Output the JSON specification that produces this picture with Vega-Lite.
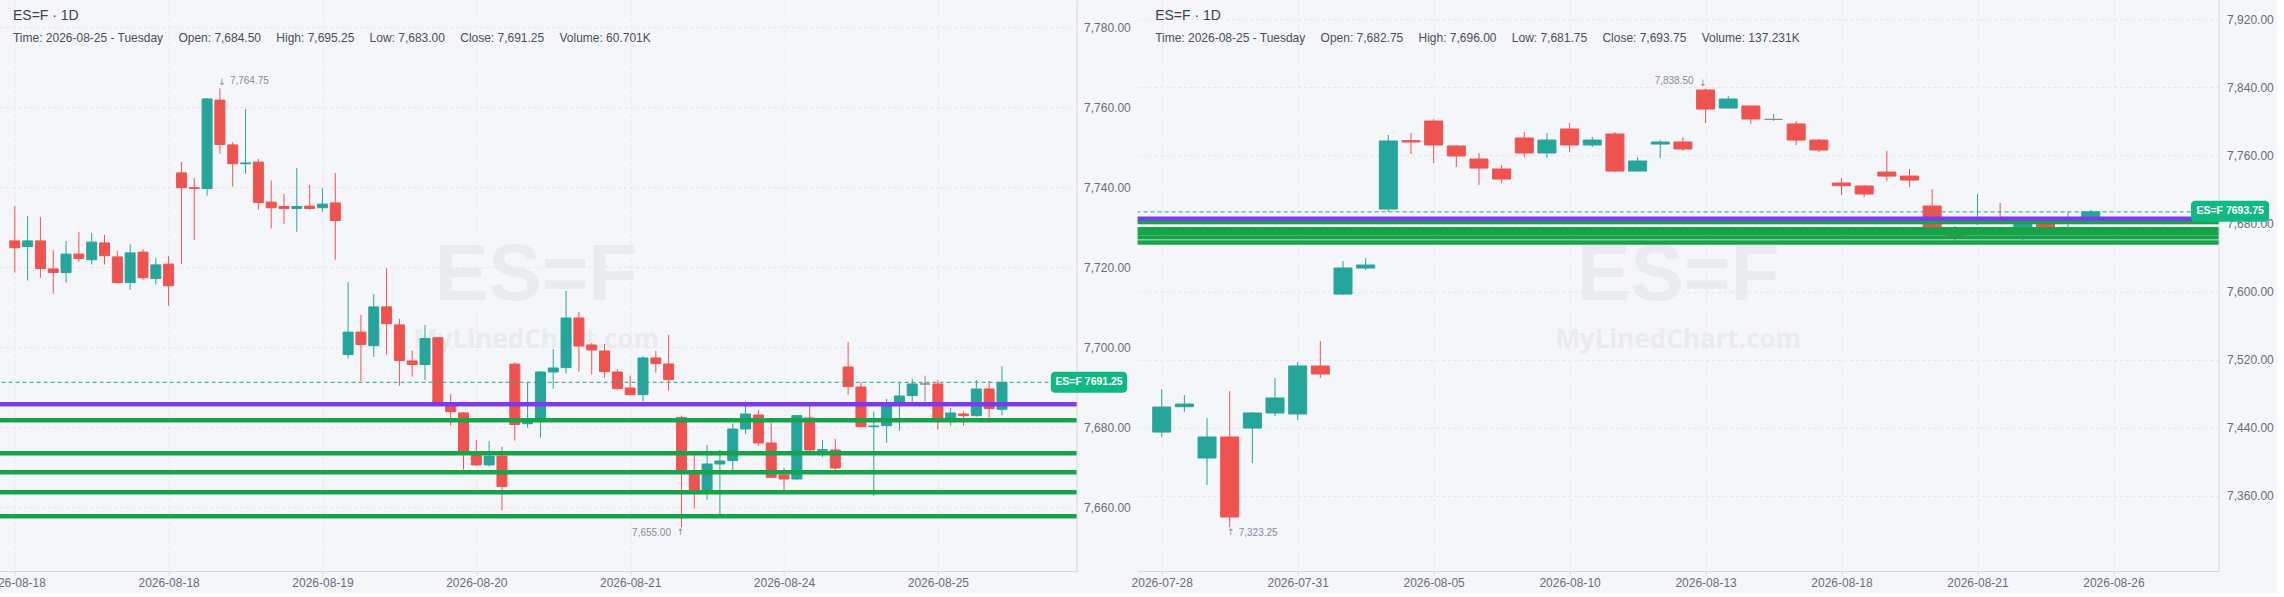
{
  "$schema": "https://vega.github.io/schema/vega-lite/v6.json",
  "background": "#f5f6fa",
  "padding": {"left": -16.4, "top": 0, "right": 3, "bottom": 4},
  "config": {
    "view": {"stroke": null},
    "font": "Liberation Sans",
    "text": {"font": "Liberation Sans"},
    "axis": {"labelFont": "Liberation Sans", "grid": true, "gridColor": "#e4e7ed", "gridDash": [3, 3], "domainColor": "#d5d8df", "tickColor": "#d5d8df", "labelFontSize": 12, "labelColor": "#666d7a", "labelFlush": false, "labelOverlap": false}
  },
  "datasets": {
    "L": [
      {"i":0,"o":7726.6,"h":7735.3,"l":7718.7,"c":7724.9},
      {"i":1,"o":7725.2,"h":7732.8,"l":7716.7,"c":7726.6},
      {"i":2,"o":7726.6,"h":7732.6,"l":7717.4,"c":7719.7},
      {"i":3,"o":7719.6,"h":7724.3,"l":7713.4,"c":7718.7},
      {"i":4,"o":7718.7,"h":7726.6,"l":7716.2,"c":7723.3},
      {"i":5,"o":7723.3,"h":7728.8,"l":7721.4,"c":7722.2},
      {"i":6,"o":7721.9,"h":7728.6,"l":7720.7,"c":7726.3},
      {"i":7,"o":7726.1,"h":7728.1,"l":7720.7,"c":7722.9},
      {"i":8,"o":7722.6,"h":7724.1,"l":7715.9,"c":7716.2},
      {"i":9,"o":7716.2,"h":7725.8,"l":7714.4,"c":7723.6},
      {"i":10,"o":7723.8,"h":7724.6,"l":7716.9,"c":7717.4},
      {"i":11,"o":7717.2,"h":7722.3,"l":7715.7,"c":7720.6},
      {"i":12,"o":7720.8,"h":7722.8,"l":7710.4,"c":7715.4},
      {"i":13,"o":7743.6,"h":7746.3,"l":7720.9,"c":7739.9},
      {"i":14,"o":7739.9,"h":7742.3,"l":7726.8,"c":7739.7},
      {"i":15,"o":7739.7,"h":7762.3,"l":7737.9,"c":7762.1},
      {"i":16,"o":7761.8,"h":7764.75,"l":7748.4,"c":7750.7},
      {"i":17,"o":7750.6,"h":7751.3,"l":7740.2,"c":7745.9},
      {"i":18,"o":7745.9,"h":7759.6,"l":7743.4,"c":7746.1},
      {"i":19,"o":7746.3,"h":7747.1,"l":7734.4,"c":7736.2},
      {"i":20,"o":7736.3,"h":7741.7,"l":7729.7,"c":7734.9},
      {"i":21,"o":7735.2,"h":7738.3,"l":7730.9,"c":7734.7},
      {"i":22,"o":7734.7,"h":7744.8,"l":7728.9,"c":7735.2},
      {"i":23,"o":7735.3,"h":7740.6,"l":7734.4,"c":7734.7},
      {"i":24,"o":7734.9,"h":7739.8,"l":7733.9,"c":7735.8},
      {"i":25,"o":7736.1,"h":7743.6,"l":7721.9,"c":7731.7},
      {"i":26,"o":7698.2,"h":7716.3,"l":7697.2,"c":7703.8},
      {"i":27,"o":7703.8,"h":7708.1,"l":7691.5,"c":7700.7},
      {"i":28,"o":7700.4,"h":7713.3,"l":7697.6,"c":7710.1},
      {"i":29,"o":7710.1,"h":7719.8,"l":7698.2,"c":7705.9},
      {"i":30,"o":7705.6,"h":7707.1,"l":7690.4,"c":7696.7},
      {"i":31,"o":7696.6,"h":7699.2,"l":7692.7,"c":7695.7},
      {"i":32,"o":7695.7,"h":7705.6,"l":7691.9,"c":7702.2},
      {"i":33,"o":7702.4,"h":7702.5,"l":7685.5,"c":7686.25},
      {"i":34,"o":7685.8,"h":7688.3,"l":7680.4,"c":7683.9},
      {"i":35,"o":7683.6,"h":7683.8,"l":7669.4,"c":7673.8},
      {"i":36,"o":7673.8,"h":7676.8,"l":7670.3,"c":7670.6},
      {"i":37,"o":7670.6,"h":7676.6,"l":7670.2,"c":7672.8},
      {"i":38,"o":7672.8,"h":7675.1,"l":7659.2,"c":7665.2},
      {"i":39,"o":7695.8,"h":7696.3,"l":7676.7,"c":7680.7},
      {"i":40,"o":7680.9,"h":7691.25,"l":7679.9,"c":7681.2},
      {"i":41,"o":7681.83,"h":7694.08,"l":7677.42,"c":7693.83},
      {"i":42,"o":7693.83,"h":7699.58,"l":7689.67,"c":7694.83},
      {"i":43,"o":7694.92,"h":7714.08,"l":7693.42,"c":7707.33},
      {"i":44,"o":7707.33,"h":7708.83,"l":7693.92,"c":7700.33},
      {"i":45,"o":7700.58,"h":7701.08,"l":7693.17,"c":7699.33},
      {"i":46,"o":7699.08,"h":7700.83,"l":7692.42,"c":7693.92},
      {"i":47,"o":7693.83,"h":7694.58,"l":7689.42,"c":7689.67},
      {"i":48,"o":7689.83,"h":7692.92,"l":7687.92,"c":7688.17},
      {"i":49,"o":7688.17,"h":7697.83,"l":7686.42,"c":7697.33},
      {"i":50,"o":7697.33,"h":7699.08,"l":7693.67,"c":7695.92},
      {"i":51,"o":7695.83,"h":7703.08,"l":7689.17,"c":7691.92},
      {"i":52,"o":7682.42,"h":7682.92,"l":7655.0,"c":7668.92},
      {"i":53,"o":7668.92,"h":7674.08,"l":7659.67,"c":7664.17},
      {"i":54,"o":7663.92,"h":7675.58,"l":7661.92,"c":7670.83},
      {"i":55,"o":7670.83,"h":7674.33,"l":7657.92,"c":7671.58},
      {"i":56,"o":7671.67,"h":7681.0,"l":7668.92,"c":7679.58},
      {"i":57,"o":7679.58,"h":7686.5,"l":7678.33,"c":7683.33},
      {"i":58,"o":7683.08,"h":7684.33,"l":7675.33,"c":7676.08},
      {"i":59,"o":7676.08,"h":7681.17,"l":7667.33,"c":7667.5},
      {"i":60,"o":7668.08,"h":7669.83,"l":7664.42,"c":7667.08},
      {"i":61,"o":7667.08,"h":7683.1,"l":7666.83,"c":7682.92},
      {"i":62,"o":7682.33,"h":7685.5,"l":7674.08,"c":7674.33},
      {"i":63,"o":7674.25,"h":7676.83,"l":7672.58,"c":7674.42},
      {"i":64,"o":7674.33,"h":7677.08,"l":7669.08,"c":7669.83},
      {"i":65,"o":7695.08,"h":7701.33,"l":7688.17,"c":7690.17},
      {"i":66,"o":7690.08,"h":7691.25,"l":7679.92,"c":7680.17},
      {"i":67,"o":7680.17,"h":7683.92,"l":7662.92,"c":7680.33},
      {"i":68,"o":7680.42,"h":7687.08,"l":7676.17,"c":7685.58},
      {"i":69,"o":7685.58,"h":7691.25,"l":7679.17,"c":7687.83},
      {"i":70,"o":7687.92,"h":7692.17,"l":7686.42,"c":7690.83},
      {"i":71,"o":7690.83,"h":7692.92,"l":7686.42,"c":7690.83},
      {"i":72,"o":7690.83,"h":7691.83,"l":7679.42,"c":7682.08},
      {"i":73,"o":7682.08,"h":7684.83,"l":7680.42,"c":7683.58},
      {"i":74,"o":7683.33,"h":7683.92,"l":7680.42,"c":7682.92},
      {"i":75,"o":7682.92,"h":7691.83,"l":7682.67,"c":7689.58},
      {"i":76,"o":7689.58,"h":7691.58,"l":7682.08,"c":7684.67},
      {"i":77,"o":7684.5,"h":7695.25,"l":7683.0,"c":7691.25}
    ],
    "R": [
      {"i":0,"o":7435.1,"h":7485.6,"l":7429.3,"c":7464.5},
      {"i":1,"o":7464.9,"h":7478.6,"l":7458.6,"c":7468.0},
      {"i":2,"o":7404.6,"h":7451.6,"l":7372.9,"c":7429.3},
      {"i":3,"o":7429.3,"h":7483.3,"l":7323.25,"c":7335.3},
      {"i":4,"o":7439.8,"h":7458.6,"l":7398.7,"c":7457.5},
      {"i":5,"o":7457.5,"h":7498.6,"l":7453.9,"c":7475.1},
      {"i":6,"o":7456.3,"h":7517.4,"l":7449.2,"c":7512.7},
      {"i":7,"o":7512.7,"h":7542.0,"l":7498.6,"c":7503.3},
      {"i":8,"o":7597.2,"h":7636.0,"l":7596.1,"c":7627.8},
      {"i":9,"o":7627.8,"h":7639.5,"l":7625.4,"c":7631.3},
      {"i":10,"o":7697.1,"h":7784.0,"l":7693.6,"c":7777.0},
      {"i":11,"o":7777.4,"h":7786.4,"l":7761.7,"c":7775.8},
      {"i":12,"o":7800.45,"h":7802.8,"l":7751.1,"c":7772.3},
      {"i":13,"o":7771.1,"h":7772.3,"l":7746.4,"c":7759.4},
      {"i":14,"o":7755.8,"h":7762.9,"l":7725.3,"c":7745.2},
      {"i":15,"o":7744.1,"h":7748.8,"l":7727.6,"c":7732.3},
      {"i":16,"o":7780.5,"h":7787.5,"l":7758.2,"c":7762.9},
      {"i":17,"o":7762.9,"h":7786.4,"l":7757.0,"c":7778.1},
      {"i":18,"o":7791.1,"h":7798.1,"l":7764.0,"c":7772.3},
      {"i":19,"o":7772.3,"h":7781.7,"l":7769.9,"c":7778.1},
      {"i":20,"o":7785.2,"h":7787.5,"l":7740.5,"c":7741.7},
      {"i":21,"o":7741.7,"h":7758.2,"l":7741.5,"c":7753.5},
      {"i":22,"o":7773.4,"h":7778.1,"l":7757.0,"c":7775.8},
      {"i":23,"o":7775.8,"h":7781.7,"l":7765.2,"c":7767.6},
      {"i":24,"o":7836.9,"h":7838.5,"l":7798.1,"c":7814.5},
      {"i":25,"o":7815.7,"h":7829.8,"l":7815.5,"c":7826.3},
      {"i":26,"o":7818.1,"h":7818.3,"l":7797.0,"c":7802.8},
      {"i":27,"o":7802.4,"h":7808.7,"l":7800.45,"c":7802.4},
      {"i":28,"o":7797.0,"h":7800.45,"l":7772.3,"c":7778.1},
      {"i":29,"o":7778.1,"h":7779.3,"l":7764.0,"c":7766.4},
      {"i":30,"o":7727.6,"h":7733.5,"l":7713.5,"c":7724.5},
      {"i":31,"o":7724.1,"h":7725.3,"l":7711.2,"c":7714.7},
      {"i":32,"o":7740.5,"h":7765.2,"l":7730.0,"c":7735.8},
      {"i":33,"o":7735.8,"h":7744.1,"l":7722.9,"c":7731.1},
      {"i":34,"o":7700.6,"h":7720.4,"l":7672.0,"c":7675.75},
      {"i":35,"o":7672.0,"h":7677.1,"l":7660.0,"c":7666.0},
      {"i":36,"o":7681.5,"h":7714.7,"l":7678.3,"c":7685.5},
      {"i":37,"o":7685.5,"h":7704.1,"l":7680.0,"c":7682.0},
      {"i":38,"o":7672.0,"h":7683.0,"l":7660.7,"c":7681.0},
      {"i":39,"o":7681.0,"h":7683.0,"l":7668.0,"c":7672.0},
      {"i":40,"o":7681.5,"h":7693.6,"l":7675.9,"c":7685.0},
      {"i":41,"o":7682.75,"h":7696.0,"l":7681.75,"c":7693.75}
    ],
    "LV": [
      {"v":7681.75,"k":"g"},
      {"v":7673.5,"k":"g"},
      {"v":7668.75,"k":"g"},
      {"v":7663.75,"k":"g"},
      {"v":7657.75,"k":"g"},
      {"v":7685.75,"k":"p"}
    ]
  },
  "bounds": "flush",
  "spacing": 61,
  "hconcat": [
    {
      "width": 1081,
      "height": 571,
      "layer": [
        {
          "data": {"values": [{"t": "ES=F"}]},
          "mark": {"type": "text", "font": "Liberation Sans", "fontWeight": "bold", "fontSize": 80, "color": "#e9ebf0", "align": "center", "baseline": "alphabetic"},
          "encoding": {
            "x": {"datum": 40.665, "type": "quantitative", "scale": {"domain": [-1.105, 82.43], "nice": false, "zero": false}, "axis": {"orient": "bottom", "values": [0, 12, 24, 36, 48, 60, 72], "labelExpr": "datum.value == 0 ? '2026-08-18' : datum.value == 12 ? '2026-08-18' : datum.value == 24 ? '2026-08-19' : datum.value == 36 ? '2026-08-20' : datum.value == 48 ? '2026-08-21' : datum.value == 60 ? '2026-08-24' : '2026-08-25'", "tickSize": 4, "labelPadding": 3, "title": null}},
            "y": {"datum": 7711.83, "type": "quantitative", "scale": {"domain": [7644.08, 7786.83], "nice": false, "zero": false}, "axis": {"orient": "right", "values": [7660, 7680, 7700, 7720, 7740, 7760, 7780], "format": ",.2f", "ticks": false, "tickSize": 0, "labelPadding": 7, "title": null}},
            "text": {"field": "t"}
          }
        },
        {
          "data": {"values": [{"t": "MyLinedChart.com"}]},
          "mark": {"type": "text", "font": "Open Sans", "fontWeight": "bold", "fontSize": 26, "color": "#e9ebf0", "align": "center", "baseline": "alphabetic"},
          "encoding": {
            "x": {"datum": 40.665, "type": "quantitative", "scale": {"domain": [-1.105, 82.43], "nice": false, "zero": false}, "axis": {"orient": "bottom", "values": [0, 12, 24, 36, 48, 60, 72], "labelExpr": "datum.value == 0 ? '2026-08-18' : datum.value == 12 ? '2026-08-18' : datum.value == 24 ? '2026-08-19' : datum.value == 36 ? '2026-08-20' : datum.value == 48 ? '2026-08-21' : datum.value == 60 ? '2026-08-24' : '2026-08-25'", "tickSize": 4, "labelPadding": 3, "title": null}},
            "y": {"datum": 7699.76, "type": "quantitative", "scale": {"domain": [7644.08, 7786.83], "nice": false, "zero": false}, "axis": {"orient": "right", "values": [7660, 7680, 7700, 7720, 7740, 7760, 7780], "format": ",.2f", "ticks": false, "tickSize": 0, "labelPadding": 7, "title": null}},
            "text": {"field": "t"}
          }
        },
        {
          "data": {"name": "L"},
          "mark": {"type": "rule", "strokeWidth": 1},
          "encoding": {
            "x": {"field": "i", "type": "quantitative", "scale": {"domain": [-1.105, 82.43], "nice": false, "zero": false}, "axis": {"orient": "bottom", "values": [0, 12, 24, 36, 48, 60, 72], "labelExpr": "datum.value == 0 ? '2026-08-18' : datum.value == 12 ? '2026-08-18' : datum.value == 24 ? '2026-08-19' : datum.value == 36 ? '2026-08-20' : datum.value == 48 ? '2026-08-21' : datum.value == 60 ? '2026-08-24' : '2026-08-25'", "tickSize": 4, "labelPadding": 3, "title": null}},
            "y": {"field": "l", "type": "quantitative", "scale": {"domain": [7644.08, 7786.83], "nice": false, "zero": false}, "axis": {"orient": "right", "values": [7660, 7680, 7700, 7720, 7740, 7760, 7780], "format": ",.2f", "ticks": false, "tickSize": 0, "labelPadding": 7, "title": null}},
            "y2": {"field": "h"},
            "color": {"condition": [{"test": "datum.c > datum.o", "value": "#26a69a"}, {"test": "datum.c == datum.o", "value": "#8c8c8c"}], "value": "#ef5350"}
          }
        },
        {
          "data": {"name": "L"},
          "mark": {"type": "bar", "size": 10, "strokeWidth": 1},
          "encoding": {
            "x": {"field": "i", "type": "quantitative", "scale": {"domain": [-1.105, 82.43], "nice": false, "zero": false}, "axis": {"orient": "bottom", "values": [0, 12, 24, 36, 48, 60, 72], "labelExpr": "datum.value == 0 ? '2026-08-18' : datum.value == 12 ? '2026-08-18' : datum.value == 24 ? '2026-08-19' : datum.value == 36 ? '2026-08-20' : datum.value == 48 ? '2026-08-21' : datum.value == 60 ? '2026-08-24' : '2026-08-25'", "tickSize": 4, "labelPadding": 3, "title": null}},
            "y": {"field": "o", "type": "quantitative", "scale": {"domain": [7644.08, 7786.83], "nice": false, "zero": false}, "axis": {"orient": "right", "values": [7660, 7680, 7700, 7720, 7740, 7760, 7780], "format": ",.2f", "ticks": false, "tickSize": 0, "labelPadding": 7, "title": null}},
            "y2": {"field": "c"},
            "color": {"condition": [{"test": "datum.c > datum.o", "value": "#26a69a"}, {"test": "datum.c == datum.o", "value": "#8c8c8c"}], "value": "#ef5350"},
            "stroke": {"condition": [{"test": "datum.c > datum.o", "value": "#26a69a"}, {"test": "datum.c == datum.o", "value": "#8c8c8c"}], "value": "#ef5350"}
          }
        },
        {
          "data": {"name": "L"},
          "transform": [{"joinaggregate": [{"op": "max", "field": "i", "as": "mi"}]}, {"filter": "datum.i == datum.mi"}],
          "mark": {"type": "rule", "strokeWidth": 1, "strokeDash": [4, 3], "color": "#22ab8a"},
          "encoding": {
            "y": {"field": "c", "type": "quantitative", "scale": {"domain": [7644.08, 7786.83], "nice": false, "zero": false}, "axis": {"orient": "right", "values": [7660, 7680, 7700, 7720, 7740, 7760, 7780], "format": ",.2f", "ticks": false, "tickSize": 0, "labelPadding": 7, "title": null}}
          }
        },
        {
          "data": {"name": "LV"},
          "transform": [{"filter": "datum.k == 'g'"}],
          "mark": {"type": "rule", "strokeWidth": 4.4, "color": "#16a34a"},
          "encoding": {
            "y": {"field": "v", "type": "quantitative", "scale": {"domain": [7644.08, 7786.83], "nice": false, "zero": false}, "axis": {"orient": "right", "values": [7660, 7680, 7700, 7720, 7740, 7760, 7780], "format": ",.2f", "ticks": false, "tickSize": 0, "labelPadding": 7, "title": null}}
          }
        },
        {
          "data": {"name": "LV"},
          "transform": [{"filter": "datum.k == 'p'"}],
          "mark": {"type": "rule", "strokeWidth": 4.4, "color": "#7c3aed"},
          "encoding": {
            "y": {"field": "v", "type": "quantitative", "scale": {"domain": [7644.08, 7786.83], "nice": false, "zero": false}, "axis": {"orient": "right", "values": [7660, 7680, 7700, 7720, 7740, 7760, 7780], "format": ",.2f", "ticks": false, "tickSize": 0, "labelPadding": 7, "title": null}}
          }
        },
        {
          "data": {"values": [{"t": "ES=F · 1D"}]},
          "mark": {"type": "text", "fontSize": 14, "color": "#3b4150", "align": "left", "baseline": "middle"},
          "encoding": {
            "x": {"datum": -0.139, "type": "quantitative", "scale": {"domain": [-1.105, 82.43], "nice": false, "zero": false}, "axis": {"orient": "bottom", "values": [0, 12, 24, 36, 48, 60, 72], "labelExpr": "datum.value == 0 ? '2026-08-18' : datum.value == 12 ? '2026-08-18' : datum.value == 24 ? '2026-08-19' : datum.value == 36 ? '2026-08-20' : datum.value == 48 ? '2026-08-21' : datum.value == 60 ? '2026-08-24' : '2026-08-25'", "tickSize": 4, "labelPadding": 3, "title": null}},
            "y": {"datum": 7782.83, "type": "quantitative", "scale": {"domain": [7644.08, 7786.83], "nice": false, "zero": false}, "axis": {"orient": "right", "values": [7660, 7680, 7700, 7720, 7740, 7760, 7780], "format": ",.2f", "ticks": false, "tickSize": 0, "labelPadding": 7, "title": null}},
            "text": {"field": "t"}
          }
        },
        {
          "data": {"values": [{"t": "Time: 2026-08-25 - Tuesday\u2003 Open: 7,684.50\u2003 High: 7,695.25\u2003 Low: 7,683.00\u2003 Close: 7,691.25\u2003 Volume: 60.701K"}]},
          "mark": {"type": "text", "fontSize": 12, "color": "#474e5c", "align": "left", "baseline": "middle"},
          "encoding": {
            "x": {"datum": -0.139, "type": "quantitative", "scale": {"domain": [-1.105, 82.43], "nice": false, "zero": false}, "axis": {"orient": "bottom", "values": [0, 12, 24, 36, 48, 60, 72], "labelExpr": "datum.value == 0 ? '2026-08-18' : datum.value == 12 ? '2026-08-18' : datum.value == 24 ? '2026-08-19' : datum.value == 36 ? '2026-08-20' : datum.value == 48 ? '2026-08-21' : datum.value == 60 ? '2026-08-24' : '2026-08-25'", "tickSize": 4, "labelPadding": 3, "title": null}},
            "y": {"datum": 7777.4, "type": "quantitative", "scale": {"domain": [7644.08, 7786.83], "nice": false, "zero": false}, "axis": {"orient": "right", "values": [7660, 7680, 7700, 7720, 7740, 7760, 7780], "format": ",.2f", "ticks": false, "tickSize": 0, "labelPadding": 7, "title": null}},
            "text": {"field": "t"}
          }
        },
        {
          "data": {"name": "L"},
          "transform": [{"joinaggregate": [{"op": "max", "field": "h", "as": "mh"}]}, {"filter": "datum.h == datum.mh"}],
          "mark": {"type": "text", "fontSize": 10, "color": "#878d99", "align": "left", "baseline": "middle", "dx": 10, "dy": -7},
          "encoding": {
            "x": {"field": "i", "type": "quantitative", "scale": {"domain": [-1.105, 82.43], "nice": false, "zero": false}, "axis": {"orient": "bottom", "values": [0, 12, 24, 36, 48, 60, 72], "labelExpr": "datum.value == 0 ? '2026-08-18' : datum.value == 12 ? '2026-08-18' : datum.value == 24 ? '2026-08-19' : datum.value == 36 ? '2026-08-20' : datum.value == 48 ? '2026-08-21' : datum.value == 60 ? '2026-08-24' : '2026-08-25'", "tickSize": 4, "labelPadding": 3, "title": null}},
            "y": {"field": "h", "type": "quantitative", "scale": {"domain": [7644.08, 7786.83], "nice": false, "zero": false}, "axis": {"orient": "right", "values": [7660, 7680, 7700, 7720, 7740, 7760, 7780], "format": ",.2f", "ticks": false, "tickSize": 0, "labelPadding": 7, "title": null}},
            "text": {"field": "h", "format": ",.2f"}
          }
        },
        {
          "data": {"name": "L"},
          "transform": [{"joinaggregate": [{"op": "max", "field": "h", "as": "mh"}]}, {"filter": "datum.h == datum.mh"}],
          "mark": {"type": "text", "text": "↓", "font": "DejaVu Sans", "fontSize": 9, "color": "#878d99", "align": "center", "baseline": "middle", "dx": 2, "dy": -6},
          "encoding": {
            "x": {"field": "i", "type": "quantitative", "scale": {"domain": [-1.105, 82.43], "nice": false, "zero": false}, "axis": {"orient": "bottom", "values": [0, 12, 24, 36, 48, 60, 72], "labelExpr": "datum.value == 0 ? '2026-08-18' : datum.value == 12 ? '2026-08-18' : datum.value == 24 ? '2026-08-19' : datum.value == 36 ? '2026-08-20' : datum.value == 48 ? '2026-08-21' : datum.value == 60 ? '2026-08-24' : '2026-08-25'", "tickSize": 4, "labelPadding": 3, "title": null}},
            "y": {"field": "h", "type": "quantitative", "scale": {"domain": [7644.08, 7786.83], "nice": false, "zero": false}, "axis": {"orient": "right", "values": [7660, 7680, 7700, 7720, 7740, 7760, 7780], "format": ",.2f", "ticks": false, "tickSize": 0, "labelPadding": 7, "title": null}}
          }
        },
        {
          "data": {"name": "L"},
          "transform": [{"joinaggregate": [{"op": "min", "field": "l", "as": "ml"}]}, {"filter": "datum.l == datum.ml"}],
          "mark": {"type": "text", "fontSize": 10, "color": "#878d99", "align": "right", "baseline": "middle", "dx": -10.5, "dy": 6},
          "encoding": {
            "x": {"field": "i", "type": "quantitative", "scale": {"domain": [-1.105, 82.43], "nice": false, "zero": false}, "axis": {"orient": "bottom", "values": [0, 12, 24, 36, 48, 60, 72], "labelExpr": "datum.value == 0 ? '2026-08-18' : datum.value == 12 ? '2026-08-18' : datum.value == 24 ? '2026-08-19' : datum.value == 36 ? '2026-08-20' : datum.value == 48 ? '2026-08-21' : datum.value == 60 ? '2026-08-24' : '2026-08-25'", "tickSize": 4, "labelPadding": 3, "title": null}},
            "y": {"field": "l", "type": "quantitative", "scale": {"domain": [7644.08, 7786.83], "nice": false, "zero": false}, "axis": {"orient": "right", "values": [7660, 7680, 7700, 7720, 7740, 7760, 7780], "format": ",.2f", "ticks": false, "tickSize": 0, "labelPadding": 7, "title": null}},
            "text": {"field": "l", "format": ",.2f"}
          }
        },
        {
          "data": {"name": "L"},
          "transform": [{"joinaggregate": [{"op": "min", "field": "l", "as": "ml"}]}, {"filter": "datum.l == datum.ml"}],
          "mark": {"type": "text", "text": "↑", "font": "DejaVu Sans", "fontSize": 9, "color": "#878d99", "align": "center", "baseline": "middle", "dx": -1, "dy": 5},
          "encoding": {
            "x": {"field": "i", "type": "quantitative", "scale": {"domain": [-1.105, 82.43], "nice": false, "zero": false}, "axis": {"orient": "bottom", "values": [0, 12, 24, 36, 48, 60, 72], "labelExpr": "datum.value == 0 ? '2026-08-18' : datum.value == 12 ? '2026-08-18' : datum.value == 24 ? '2026-08-19' : datum.value == 36 ? '2026-08-20' : datum.value == 48 ? '2026-08-21' : datum.value == 60 ? '2026-08-24' : '2026-08-25'", "tickSize": 4, "labelPadding": 3, "title": null}},
            "y": {"field": "l", "type": "quantitative", "scale": {"domain": [7644.08, 7786.83], "nice": false, "zero": false}, "axis": {"orient": "right", "values": [7660, 7680, 7700, 7720, 7740, 7760, 7780], "format": ",.2f", "ticks": false, "tickSize": 0, "labelPadding": 7, "title": null}}
          }
        },
        {
          "data": {"values": [{"t": "ES=F 7691.25"}]},
          "mark": {"type": "rect", "color": "#10b981", "cornerRadius": 4},
          "encoding": {
            "x": {"datum": 80.81, "type": "quantitative", "scale": {"domain": [-1.105, 82.43], "nice": false, "zero": false}, "axis": {"orient": "bottom", "values": [0, 12, 24, 36, 48, 60, 72], "labelExpr": "datum.value == 0 ? '2026-08-18' : datum.value == 12 ? '2026-08-18' : datum.value == 24 ? '2026-08-19' : datum.value == 36 ? '2026-08-20' : datum.value == 48 ? '2026-08-21' : datum.value == 60 ? '2026-08-24' : '2026-08-25'", "tickSize": 4, "labelPadding": 3, "title": null}},
            "x2": {"datum": 86.76},
            "y": {"datum": 7693.9, "type": "quantitative", "scale": {"domain": [7644.08, 7786.83], "nice": false, "zero": false}, "axis": {"orient": "right", "values": [7660, 7680, 7700, 7720, 7740, 7760, 7780], "format": ",.2f", "ticks": false, "tickSize": 0, "labelPadding": 7, "title": null}},
            "y2": {"datum": 7688.66}
          }
        },
        {
          "data": {"values": [{"t": "ES=F 7691.25"}]},
          "mark": {"type": "text", "fontSize": 10.5, "fontWeight": "bold", "color": "#ffffff", "align": "center", "baseline": "middle"},
          "encoding": {
            "x": {"datum": 83.79, "type": "quantitative", "scale": {"domain": [-1.105, 82.43], "nice": false, "zero": false}, "axis": {"orient": "bottom", "values": [0, 12, 24, 36, 48, 60, 72], "labelExpr": "datum.value == 0 ? '2026-08-18' : datum.value == 12 ? '2026-08-18' : datum.value == 24 ? '2026-08-19' : datum.value == 36 ? '2026-08-20' : datum.value == 48 ? '2026-08-21' : datum.value == 60 ? '2026-08-24' : '2026-08-25'", "tickSize": 4, "labelPadding": 3, "title": null}},
            "y": {"datum": 7691.28, "type": "quantitative", "scale": {"domain": [7644.08, 7786.83], "nice": false, "zero": false}, "axis": {"orient": "right", "values": [7660, 7680, 7700, 7720, 7740, 7760, 7780], "format": ",.2f", "ticks": false, "tickSize": 0, "labelPadding": 7, "title": null}},
            "text": {"field": "t"}
          }
        }
      ]
    },
    {
      "width": 1081,
      "height": 571,
      "layer": [
        {
          "data": {"values": [{"t": "ES=F"}]},
          "mark": {"type": "text", "font": "Liberation Sans", "fontWeight": "bold", "fontSize": 80, "color": "#e9ebf0", "align": "center", "baseline": "alphabetic"},
          "encoding": {
            "x": {"datum": 22.79, "type": "quantitative", "scale": {"domain": [-0.844, 46.42], "nice": false, "zero": false}, "axis": {"orient": "bottom", "values": [0, 6, 12, 18, 24, 30, 36, 42], "labelExpr": "datum.value == 0 ? '2026-07-28' : datum.value == 6 ? '2026-07-31' : datum.value == 12 ? '2026-08-05' : datum.value == 18 ? '2026-08-10' : datum.value == 24 ? '2026-08-13' : datum.value == 30 ? '2026-08-18' : datum.value == 36 ? '2026-08-21' : '2026-08-26'", "tickSize": 4, "labelPadding": 3, "title": null}},
            "y": {"datum": 7590.2, "type": "quantitative", "scale": {"domain": [7271.9, 7942.6], "nice": false, "zero": false}, "axis": {"orient": "right", "values": [7360, 7440, 7520, 7600, 7680, 7760, 7840, 7920], "format": ",.2f", "ticks": false, "tickSize": 0, "labelPadding": 8, "title": null}},
            "text": {"field": "t"}
          }
        },
        {
          "data": {"values": [{"t": "MyLinedChart.com"}]},
          "mark": {"type": "text", "font": "Open Sans", "fontWeight": "bold", "fontSize": 26, "color": "#e9ebf0", "align": "center", "baseline": "alphabetic"},
          "encoding": {
            "x": {"datum": 22.79, "type": "quantitative", "scale": {"domain": [-0.844, 46.42], "nice": false, "zero": false}, "axis": {"orient": "bottom", "values": [0, 6, 12, 18, 24, 30, 36, 42], "labelExpr": "datum.value == 0 ? '2026-07-28' : datum.value == 6 ? '2026-07-31' : datum.value == 12 ? '2026-08-05' : datum.value == 18 ? '2026-08-10' : datum.value == 24 ? '2026-08-13' : datum.value == 30 ? '2026-08-18' : datum.value == 36 ? '2026-08-21' : '2026-08-26'", "tickSize": 4, "labelPadding": 3, "title": null}},
            "y": {"datum": 7533.5, "type": "quantitative", "scale": {"domain": [7271.9, 7942.6], "nice": false, "zero": false}, "axis": {"orient": "right", "values": [7360, 7440, 7520, 7600, 7680, 7760, 7840, 7920], "format": ",.2f", "ticks": false, "tickSize": 0, "labelPadding": 8, "title": null}},
            "text": {"field": "t"}
          }
        },
        {
          "data": {"name": "R"},
          "mark": {"type": "rule", "strokeWidth": 1},
          "encoding": {
            "x": {"field": "i", "type": "quantitative", "scale": {"domain": [-0.844, 46.42], "nice": false, "zero": false}, "axis": {"orient": "bottom", "values": [0, 6, 12, 18, 24, 30, 36, 42], "labelExpr": "datum.value == 0 ? '2026-07-28' : datum.value == 6 ? '2026-07-31' : datum.value == 12 ? '2026-08-05' : datum.value == 18 ? '2026-08-10' : datum.value == 24 ? '2026-08-13' : datum.value == 30 ? '2026-08-18' : datum.value == 36 ? '2026-08-21' : '2026-08-26'", "tickSize": 4, "labelPadding": 3, "title": null}},
            "y": {"field": "l", "type": "quantitative", "scale": {"domain": [7271.9, 7942.6], "nice": false, "zero": false}, "axis": {"orient": "right", "values": [7360, 7440, 7520, 7600, 7680, 7760, 7840, 7920], "format": ",.2f", "ticks": false, "tickSize": 0, "labelPadding": 8, "title": null}},
            "y2": {"field": "h"},
            "color": {"condition": [{"test": "datum.c > datum.o", "value": "#26a69a"}, {"test": "datum.c == datum.o", "value": "#8c8c8c"}], "value": "#ef5350"}
          }
        },
        {
          "data": {"name": "R"},
          "mark": {"type": "bar", "size": 18, "strokeWidth": 1},
          "encoding": {
            "x": {"field": "i", "type": "quantitative", "scale": {"domain": [-0.844, 46.42], "nice": false, "zero": false}, "axis": {"orient": "bottom", "values": [0, 6, 12, 18, 24, 30, 36, 42], "labelExpr": "datum.value == 0 ? '2026-07-28' : datum.value == 6 ? '2026-07-31' : datum.value == 12 ? '2026-08-05' : datum.value == 18 ? '2026-08-10' : datum.value == 24 ? '2026-08-13' : datum.value == 30 ? '2026-08-18' : datum.value == 36 ? '2026-08-21' : '2026-08-26'", "tickSize": 4, "labelPadding": 3, "title": null}},
            "y": {"field": "o", "type": "quantitative", "scale": {"domain": [7271.9, 7942.6], "nice": false, "zero": false}, "axis": {"orient": "right", "values": [7360, 7440, 7520, 7600, 7680, 7760, 7840, 7920], "format": ",.2f", "ticks": false, "tickSize": 0, "labelPadding": 8, "title": null}},
            "y2": {"field": "c"},
            "color": {"condition": [{"test": "datum.c > datum.o", "value": "#26a69a"}, {"test": "datum.c == datum.o", "value": "#8c8c8c"}], "value": "#ef5350"},
            "stroke": {"condition": [{"test": "datum.c > datum.o", "value": "#26a69a"}, {"test": "datum.c == datum.o", "value": "#8c8c8c"}], "value": "#ef5350"}
          }
        },
        {
          "data": {"name": "R"},
          "transform": [{"joinaggregate": [{"op": "max", "field": "i", "as": "mi"}]}, {"filter": "datum.i == datum.mi"}],
          "mark": {"type": "rule", "strokeWidth": 1, "strokeDash": [4, 3], "color": "#22ab8a"},
          "encoding": {
            "y": {"field": "c", "type": "quantitative", "scale": {"domain": [7271.9, 7942.6], "nice": false, "zero": false}, "axis": {"orient": "right", "values": [7360, 7440, 7520, 7600, 7680, 7760, 7840, 7920], "format": ",.2f", "ticks": false, "tickSize": 0, "labelPadding": 8, "title": null}}
          }
        },
        {
          "data": {"name": "LV"},
          "transform": [{"filter": "datum.k == 'g'"}],
          "mark": {"type": "rule", "strokeWidth": 4.4, "color": "#16a34a"},
          "encoding": {
            "y": {"field": "v", "type": "quantitative", "scale": {"domain": [7271.9, 7942.6], "nice": false, "zero": false}, "axis": {"orient": "right", "values": [7360, 7440, 7520, 7600, 7680, 7760, 7840, 7920], "format": ",.2f", "ticks": false, "tickSize": 0, "labelPadding": 8, "title": null}}
          }
        },
        {
          "data": {"name": "LV"},
          "transform": [{"filter": "datum.k == 'p'"}],
          "mark": {"type": "rule", "strokeWidth": 4.4, "color": "#7c3aed"},
          "encoding": {
            "y": {"field": "v", "type": "quantitative", "scale": {"domain": [7271.9, 7942.6], "nice": false, "zero": false}, "axis": {"orient": "right", "values": [7360, 7440, 7520, 7600, 7680, 7760, 7840, 7920], "format": ",.2f", "ticks": false, "tickSize": 0, "labelPadding": 8, "title": null}}
          }
        },
        {
          "data": {"values": [{"t": "ES=F · 1D"}]},
          "mark": {"type": "text", "fontSize": 14, "color": "#3b4150", "align": "left", "baseline": "middle"},
          "encoding": {
            "x": {"datum": -0.289, "type": "quantitative", "scale": {"domain": [-0.844, 46.42], "nice": false, "zero": false}, "axis": {"orient": "bottom", "values": [0, 6, 12, 18, 24, 30, 36, 42], "labelExpr": "datum.value == 0 ? '2026-07-28' : datum.value == 6 ? '2026-07-31' : datum.value == 12 ? '2026-08-05' : datum.value == 18 ? '2026-08-10' : datum.value == 24 ? '2026-08-13' : datum.value == 30 ? '2026-08-18' : datum.value == 36 ? '2026-08-21' : '2026-08-26'", "tickSize": 4, "labelPadding": 3, "title": null}},
            "y": {"datum": 7923.8, "type": "quantitative", "scale": {"domain": [7271.9, 7942.6], "nice": false, "zero": false}, "axis": {"orient": "right", "values": [7360, 7440, 7520, 7600, 7680, 7760, 7840, 7920], "format": ",.2f", "ticks": false, "tickSize": 0, "labelPadding": 8, "title": null}},
            "text": {"field": "t"}
          }
        },
        {
          "data": {"values": [{"t": "Time: 2026-08-25 - Tuesday\u2003 Open: 7,682.75\u2003 High: 7,696.00\u2003 Low: 7,681.75\u2003 Close: 7,693.75\u2003 Volume: 137.231K"}]},
          "mark": {"type": "text", "fontSize": 12, "color": "#474e5c", "align": "left", "baseline": "middle"},
          "encoding": {
            "x": {"datum": -0.289, "type": "quantitative", "scale": {"domain": [-0.844, 46.42], "nice": false, "zero": false}, "axis": {"orient": "bottom", "values": [0, 6, 12, 18, 24, 30, 36, 42], "labelExpr": "datum.value == 0 ? '2026-07-28' : datum.value == 6 ? '2026-07-31' : datum.value == 12 ? '2026-08-05' : datum.value == 18 ? '2026-08-10' : datum.value == 24 ? '2026-08-13' : datum.value == 30 ? '2026-08-18' : datum.value == 36 ? '2026-08-21' : '2026-08-26'", "tickSize": 4, "labelPadding": 3, "title": null}},
            "y": {"datum": 7898.3, "type": "quantitative", "scale": {"domain": [7271.9, 7942.6], "nice": false, "zero": false}, "axis": {"orient": "right", "values": [7360, 7440, 7520, 7600, 7680, 7760, 7840, 7920], "format": ",.2f", "ticks": false, "tickSize": 0, "labelPadding": 8, "title": null}},
            "text": {"field": "t"}
          }
        },
        {
          "data": {"name": "R"},
          "transform": [{"joinaggregate": [{"op": "max", "field": "h", "as": "mh"}]}, {"filter": "datum.h == datum.mh"}],
          "mark": {"type": "text", "fontSize": 10, "color": "#878d99", "align": "right", "baseline": "middle", "dx": -12, "dy": -8},
          "encoding": {
            "x": {"field": "i", "type": "quantitative", "scale": {"domain": [-0.844, 46.42], "nice": false, "zero": false}, "axis": {"orient": "bottom", "values": [0, 6, 12, 18, 24, 30, 36, 42], "labelExpr": "datum.value == 0 ? '2026-07-28' : datum.value == 6 ? '2026-07-31' : datum.value == 12 ? '2026-08-05' : datum.value == 18 ? '2026-08-10' : datum.value == 24 ? '2026-08-13' : datum.value == 30 ? '2026-08-18' : datum.value == 36 ? '2026-08-21' : '2026-08-26'", "tickSize": 4, "labelPadding": 3, "title": null}},
            "y": {"field": "h", "type": "quantitative", "scale": {"domain": [7271.9, 7942.6], "nice": false, "zero": false}, "axis": {"orient": "right", "values": [7360, 7440, 7520, 7600, 7680, 7760, 7840, 7920], "format": ",.2f", "ticks": false, "tickSize": 0, "labelPadding": 8, "title": null}},
            "text": {"field": "h", "format": ",.2f"}
          }
        },
        {
          "data": {"name": "R"},
          "transform": [{"joinaggregate": [{"op": "max", "field": "h", "as": "mh"}]}, {"filter": "datum.h == datum.mh"}],
          "mark": {"type": "text", "text": "↓", "font": "DejaVu Sans", "fontSize": 9, "color": "#878d99", "align": "center", "baseline": "middle", "dx": -2.5, "dy": -6},
          "encoding": {
            "x": {"field": "i", "type": "quantitative", "scale": {"domain": [-0.844, 46.42], "nice": false, "zero": false}, "axis": {"orient": "bottom", "values": [0, 6, 12, 18, 24, 30, 36, 42], "labelExpr": "datum.value == 0 ? '2026-07-28' : datum.value == 6 ? '2026-07-31' : datum.value == 12 ? '2026-08-05' : datum.value == 18 ? '2026-08-10' : datum.value == 24 ? '2026-08-13' : datum.value == 30 ? '2026-08-18' : datum.value == 36 ? '2026-08-21' : '2026-08-26'", "tickSize": 4, "labelPadding": 3, "title": null}},
            "y": {"field": "h", "type": "quantitative", "scale": {"domain": [7271.9, 7942.6], "nice": false, "zero": false}, "axis": {"orient": "right", "values": [7360, 7440, 7520, 7600, 7680, 7760, 7840, 7920], "format": ",.2f", "ticks": false, "tickSize": 0, "labelPadding": 8, "title": null}}
          }
        },
        {
          "data": {"name": "R"},
          "transform": [{"joinaggregate": [{"op": "min", "field": "l", "as": "ml"}]}, {"filter": "datum.l == datum.ml"}],
          "mark": {"type": "text", "fontSize": 10, "color": "#878d99", "align": "left", "baseline": "middle", "dx": 9, "dy": 6},
          "encoding": {
            "x": {"field": "i", "type": "quantitative", "scale": {"domain": [-0.844, 46.42], "nice": false, "zero": false}, "axis": {"orient": "bottom", "values": [0, 6, 12, 18, 24, 30, 36, 42], "labelExpr": "datum.value == 0 ? '2026-07-28' : datum.value == 6 ? '2026-07-31' : datum.value == 12 ? '2026-08-05' : datum.value == 18 ? '2026-08-10' : datum.value == 24 ? '2026-08-13' : datum.value == 30 ? '2026-08-18' : datum.value == 36 ? '2026-08-21' : '2026-08-26'", "tickSize": 4, "labelPadding": 3, "title": null}},
            "y": {"field": "l", "type": "quantitative", "scale": {"domain": [7271.9, 7942.6], "nice": false, "zero": false}, "axis": {"orient": "right", "values": [7360, 7440, 7520, 7600, 7680, 7760, 7840, 7920], "format": ",.2f", "ticks": false, "tickSize": 0, "labelPadding": 8, "title": null}},
            "text": {"field": "l", "format": ",.2f"}
          }
        },
        {
          "data": {"name": "R"},
          "transform": [{"joinaggregate": [{"op": "min", "field": "l", "as": "ml"}]}, {"filter": "datum.l == datum.ml"}],
          "mark": {"type": "text", "text": "↑", "font": "DejaVu Sans", "fontSize": 9, "color": "#878d99", "align": "center", "baseline": "middle", "dx": 1, "dy": 5},
          "encoding": {
            "x": {"field": "i", "type": "quantitative", "scale": {"domain": [-0.844, 46.42], "nice": false, "zero": false}, "axis": {"orient": "bottom", "values": [0, 6, 12, 18, 24, 30, 36, 42], "labelExpr": "datum.value == 0 ? '2026-07-28' : datum.value == 6 ? '2026-07-31' : datum.value == 12 ? '2026-08-05' : datum.value == 18 ? '2026-08-10' : datum.value == 24 ? '2026-08-13' : datum.value == 30 ? '2026-08-18' : datum.value == 36 ? '2026-08-21' : '2026-08-26'", "tickSize": 4, "labelPadding": 3, "title": null}},
            "y": {"field": "l", "type": "quantitative", "scale": {"domain": [7271.9, 7942.6], "nice": false, "zero": false}, "axis": {"orient": "right", "values": [7360, 7440, 7520, 7600, 7680, 7760, 7840, 7920], "format": ",.2f", "ticks": false, "tickSize": 0, "labelPadding": 8, "title": null}}
          }
        },
        {
          "data": {"values": [{"t": "ES=F 7693.75"}]},
          "mark": {"type": "rect", "color": "#10b981", "cornerRadius": 4},
          "encoding": {
            "x": {"datum": 45.42, "type": "quantitative", "scale": {"domain": [-0.844, 46.42], "nice": false, "zero": false}, "axis": {"orient": "bottom", "values": [0, 6, 12, 18, 24, 30, 36, 42], "labelExpr": "datum.value == 0 ? '2026-07-28' : datum.value == 6 ? '2026-07-31' : datum.value == 12 ? '2026-08-05' : datum.value == 18 ? '2026-08-10' : datum.value == 24 ? '2026-08-13' : datum.value == 30 ? '2026-08-18' : datum.value == 36 ? '2026-08-21' : '2026-08-26'", "tickSize": 4, "labelPadding": 3, "title": null}},
            "x2": {"datum": 48.87},
            "y": {"datum": 7706.9, "type": "quantitative", "scale": {"domain": [7271.9, 7942.6], "nice": false, "zero": false}, "axis": {"orient": "right", "values": [7360, 7440, 7520, 7600, 7680, 7760, 7840, 7920], "format": ",.2f", "ticks": false, "tickSize": 0, "labelPadding": 8, "title": null}},
            "y2": {"datum": 7682.2}
          }
        },
        {
          "data": {"values": [{"t": "ES=F 7693.75"}]},
          "mark": {"type": "text", "fontSize": 10.5, "fontWeight": "bold", "color": "#ffffff", "align": "center", "baseline": "middle"},
          "encoding": {
            "x": {"datum": 47.15, "type": "quantitative", "scale": {"domain": [-0.844, 46.42], "nice": false, "zero": false}, "axis": {"orient": "bottom", "values": [0, 6, 12, 18, 24, 30, 36, 42], "labelExpr": "datum.value == 0 ? '2026-07-28' : datum.value == 6 ? '2026-07-31' : datum.value == 12 ? '2026-08-05' : datum.value == 18 ? '2026-08-10' : datum.value == 24 ? '2026-08-13' : datum.value == 30 ? '2026-08-18' : datum.value == 36 ? '2026-08-21' : '2026-08-26'", "tickSize": 4, "labelPadding": 3, "title": null}},
            "y": {"datum": 7694.5, "type": "quantitative", "scale": {"domain": [7271.9, 7942.6], "nice": false, "zero": false}, "axis": {"orient": "right", "values": [7360, 7440, 7520, 7600, 7680, 7760, 7840, 7920], "format": ",.2f", "ticks": false, "tickSize": 0, "labelPadding": 8, "title": null}},
            "text": {"field": "t"}
          }
        }
      ]
    }
  ]
}
